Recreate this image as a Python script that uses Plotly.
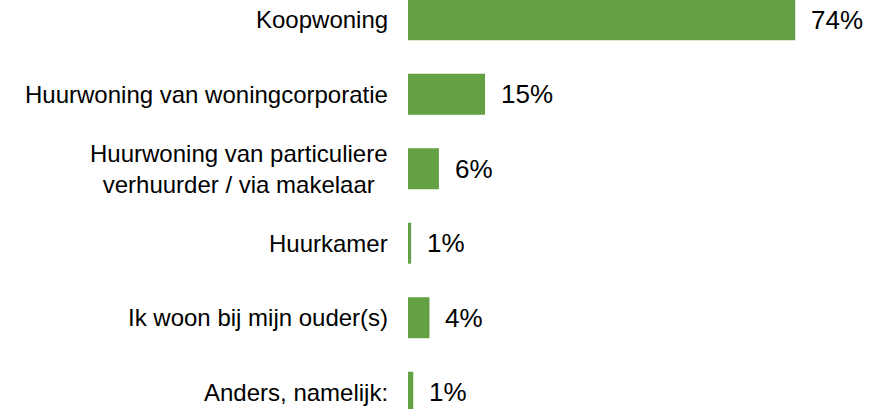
import plotly.graph_objects as go

categories = [
    "Koopwoning",
    "Huurwoning van woningcorporatie",
    "Huurwoning van particuliere<br>verhuurder / via makelaar",
    "Huurkamer",
    "Ik woon bij mijn ouder(s)",
    "Anders, namelijk:",
]
values = [73.9, 14.7, 5.9, 0.6, 4.1, 1.0]
value_labels = ["74%", "15%", "6%", "1%", "4%", "1%"]

GREEN = "#64A044"
FONT = "Liberation Sans, Arial, sans-serif"
FS_CAT = 24
FS_VAL = 26

fig = go.Figure()
fig.add_trace(go.Bar(
    x=values,
    y=categories,
    orientation="h",
    marker=dict(color=GREEN, line=dict(width=0)),
    width=0.55,
    hoverinfo="skip",
))

annotations = []
for cat, v, lab in zip(categories, values, value_labels):
    annotations.append(dict(
        x=0, y=cat, xref="x", yref="y", text=cat, showarrow=False,
        xanchor="right", yanchor="middle", xshift=-18, align="center",
        font=dict(family=FONT, size=FS_CAT, color="#000000"),
    ))
    annotations.append(dict(
        x=v, y=cat, xref="x", yref="y", text=lab, showarrow=False,
        xanchor="left", yanchor="middle", xshift=14, align="left",
        font=dict(family=FONT, size=FS_VAL, color="#000000"),
    ))

fig.update_layout(
    width=882, height=409,
    margin=dict(l=408, r=0, t=0, b=0, pad=0),
    paper_bgcolor="white", plot_bgcolor="white",
    showlegend=False,
    xaxis=dict(range=[0, 90.46], visible=False, fixedrange=True),
    yaxis=dict(type="category", categoryorder="array", categoryarray=categories,
               range=[5.225, -0.264], showticklabels=False, showgrid=False,
               zeroline=False, showline=False, ticks="", fixedrange=True),
    annotations=annotations,
)

fig.write_html(
    "out.html",
    config={"displayModeBar": False},
    post_script="document.body.style.margin='0';document.body.style.overflow='hidden';",
)
